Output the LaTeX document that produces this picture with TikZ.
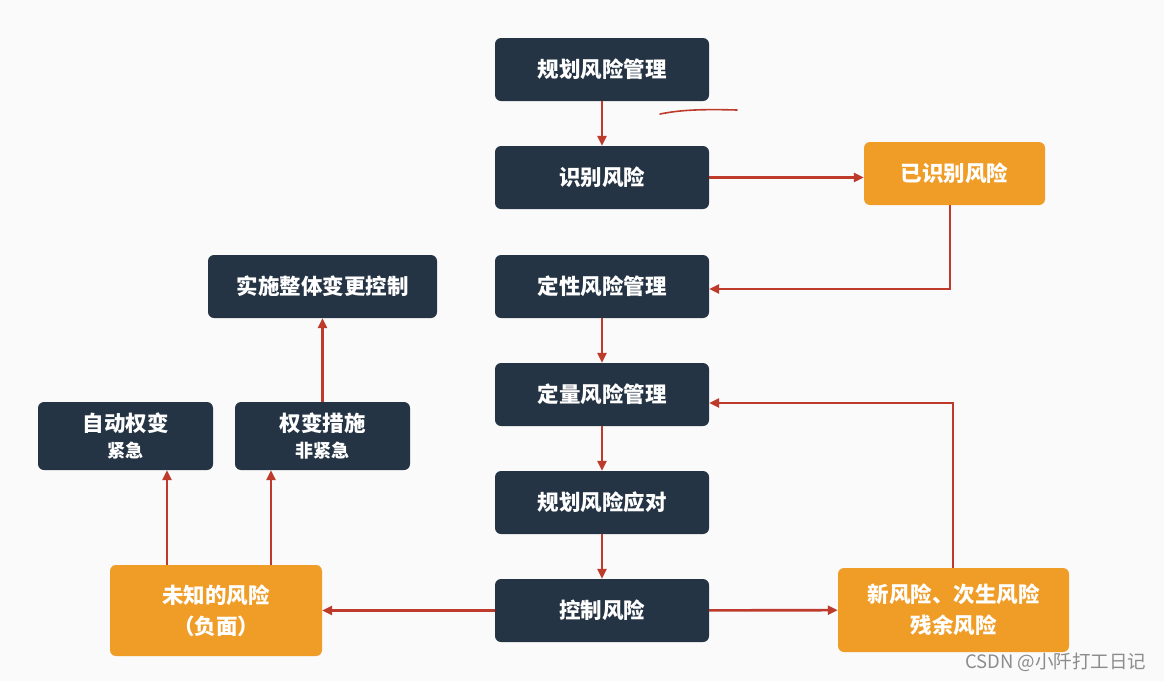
\documentclass[tikz,border=0pt]{standalone}
\usepackage{fontspec}
\setmainfont{Noto Sans CJK SC}
\usetikzlibrary{arrows.meta,positioning,shapes}

\definecolor{boxdark}{HTML}{253444}
\definecolor{boxorange}{HTML}{F09D28}
\definecolor{flowred}{HTML}{BE3A2B}

\begin{document}
\begin{tikzpicture}[x=1pt,y=-1pt,
  darkbox/.style={draw=none,fill=boxdark,rounded corners=6pt,text=white,align=center,
    minimum width=214pt,minimum height=63pt,font=\bfseries\fontsize{21.5}{31}\selectfont},
  orangebox/.style={darkbox,fill=boxorange},
  flow/.style={-{Triangle[length=10pt,width=9pt]},draw=flowred,line width=2.6pt}]
\fill[white!98!black] (0,0) rectangle (1164,681);
\node[darkbox] (plan) at (602,69.5) {规划风险管理};
\node[darkbox] (ident) at (602,177.5) {识别风险};
\node[orangebox,minimum width=181pt] (known) at (954.5,173.5) {已识别风险};
\node[darkbox] (qual) at (602,286.5) {定性风险管理};
\node[darkbox] (quant) at (602,394.5) {定量风险管理};
\node[darkbox] (resp) at (602,502.5) {规划风险应对};
\node[darkbox] (ctrl) at (602,610.5) {控制风险};
\node[orangebox,minimum width=231pt,minimum height=84pt] (newrisk) at (953.5,610) {新风险、次生风险\\残余风险};
\node[orangebox,minimum width=212pt,minimum height=91pt] (unknown) at (216,610.5) {未知的风险\\（负面）};
\node[darkbox,minimum width=175pt,minimum height=68pt] (auto) at (125.5,436) {自动权变\\[-5pt]{\fontsize{18}{22}\selectfont 紧急}};
\node[darkbox,minimum width=175pt,minimum height=68pt] (work) at (322.5,436) {权变措施\\[-5pt]{\fontsize{18}{22}\selectfont 非紧急}};
\node[darkbox,minimum width=229pt] (change) at (322.5,286.5) {实施整体变更控制};
\coordinate (c1) at (950,289);
\coordinate (c2) at (953,403);
\coordinate (u1) at (167,0);
\coordinate (u2) at (271,0);
% main chain
\draw[flow] (plan) -- (ident);
\draw[flow] (ident.east) -- (ident.east -| known.west);
\draw[flow] (known.south -| c1) -- (c1) -- (c1 -| qual.east);
\draw[flow] (qual) -- (quant);
\draw[flow] (quant) -- (resp);
\draw[flow] (resp) -- (ctrl);
\draw[flow] (ctrl) -- (newrisk);
\draw[flow] (newrisk.north -| c2) -- (c2) -- (c2 -| quant.east);
\draw[flow] (ctrl) -- (unknown);
% workarounds
\draw[flow] (unknown.north -| u1) -- (auto.south -| u1);
\draw[flow] (unknown.north -| u2) -- (work.south -| u2);
\draw[flow] (work) -- (change);
% hand mark
\draw[flowred,line width=1.6pt,line cap=round] (660,114) .. controls (680,110) and (700,109) .. (737,110);
\node[text=black!45,font=\fontsize{18.5}{20}\selectfont,anchor=east] (mark) at (1150,662) {CSDN @小阡打工日记};
\end{tikzpicture}
\end{document}
